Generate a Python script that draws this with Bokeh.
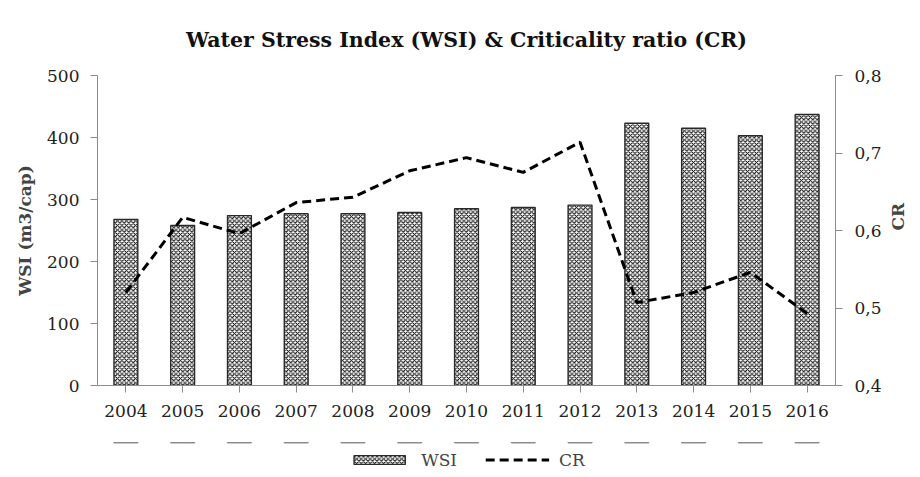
import math
from bokeh.plotting import figure
from bokeh.layouts import column
from bokeh.models import (FactorRange, Range1d, LinearAxis, CustomJSTickFormatter,
                          Legend, LegendItem, ColumnDataSource, FixedTicker)
from bokeh.embed import file_html
from bokeh.resources import INLINE

years = ["2004", "2005", "2006", "2007", "2008", "2009", "2010",
         "2011", "2012", "2013", "2014", "2015", "2016"]
wsi = [268, 258, 274, 277, 277, 279, 285, 287, 291, 423, 415, 403, 437]
cr = [0.52, 0.617, 0.596, 0.636, 0.643, 0.677, 0.694, 0.675, 0.714,
      0.507, 0.52, 0.546, 0.493]

FONT = "DejaVu Serif"
GRAY = "#8c8c8c"
TICK_SIZE = "17px"
BAR_STYLE = dict(fill_color="white", line_color="#2a2a2a", line_width=1.4,
                 hatch_pattern="diagonal_cross", hatch_color="black",
                 hatch_scale=4.5, hatch_weight=1)
LINE_STYLE = dict(line_color="black", line_width=3, line_dash="9 5")

src = ColumnDataSource(dict(year=years, wsi=wsi, cr=cr))

p = figure(width=920, height=430,
           x_range=FactorRange(*years, range_padding=0),
           y_range=Range1d(0, 500), output_backend="svg", toolbar_location=None,
           min_border_left=97, min_border_right=81, min_border_top=75,
           min_border_bottom=45)
p.extra_y_ranges = {"cr": Range1d(0.4, 0.8)}
p.outline_line_color = None
p.xgrid.grid_line_color = None
p.ygrid.grid_line_color = None

p.vbar(x="year", top="wsi", width=0.42, source=src, **BAR_STYLE)
p.line(x="year", y="cr", source=src, y_range_name="cr", **LINE_STYLE)

p.title.text = "Water Stress Index (WSI) & Criticality ratio (CR)"
p.title.align = "center"
p.title.text_font = FONT
p.title.text_font_size = "20.5px"
p.title.text_font_style = "bold"
p.title.text_color = "#111111"
p.title.standoff = 47

for ax in [p.xaxis[0], p.yaxis[0]]:
    ax.axis_line_color = GRAY
    ax.major_tick_line_color = GRAY
    ax.minor_tick_line_color = None
    ax.major_label_text_font = FONT
    ax.major_label_text_font_size = TICK_SIZE
    ax.major_label_text_color = "#222222"
    ax.major_tick_out = 7
    ax.major_tick_in = 0

p.yaxis[0].ticker = FixedTicker(ticks=[0, 100, 200, 300, 400, 500])
p.yaxis[0].major_label_standoff = 11
p.yaxis[0].axis_label = "WSI (m3/cap)"
p.yaxis[0].axis_label_text_font = FONT
p.yaxis[0].axis_label_text_font_size = "17px"
p.yaxis[0].axis_label_text_font_style = "bold"
p.yaxis[0].axis_label_standoff = 9
p.xaxis[0].major_label_standoff = 12

rax = LinearAxis(y_range_name="cr", ticker=FixedTicker(ticks=[0.4, 0.5, 0.6, 0.7, 0.8]),
                 formatter=CustomJSTickFormatter(code="return tick.toFixed(1).replace('.', ',');"))
rax.axis_line_color = GRAY
rax.major_tick_line_color = GRAY
rax.minor_tick_line_color = None
rax.major_tick_out = 7
rax.major_tick_in = 0
rax.major_label_standoff = 12
rax.major_label_text_font = FONT
rax.major_label_text_font_size = TICK_SIZE
rax.major_label_text_color = "#222222"
rax.axis_label = "CR"
rax.axis_label_orientation = math.pi / 2
rax.axis_label_text_font = FONT
rax.axis_label_text_font_size = "17px"
rax.axis_label_text_font_style = "bold"
rax.axis_label_standoff = 13
p.add_layout(rax, "right")

# legend strip below the chart: same series drawn out of view so only the
# legend swatches and labels are visible
lg = figure(width=920, height=47, x_range=FactorRange(*years, range_padding=0),
            y_range=Range1d(-2, -1), output_backend="svg", toolbar_location=None,
            min_border_left=18, min_border_right=0, min_border_top=12,
            min_border_bottom=0)
lg.axis.visible = False
lg.grid.grid_line_color = None
lg.outline_line_color = None
r_bar = lg.vbar(x="year", top="wsi", width=0.42, source=src, **BAR_STYLE)
r_line = lg.line(x="year", y="cr", source=src, **LINE_STYLE)
legend = Legend(items=[LegendItem(label="WSI", renderers=[r_bar]),
                       LegendItem(label="CR", renderers=[r_line])],
                orientation="horizontal", location="center", margin=0,
                glyph_width=64, glyph_height=11, spacing=28, label_standoff=10,
                label_text_font=FONT, label_text_font_size=TICK_SIZE,
                border_line_color=None, background_fill_alpha=0)
lg.add_layout(legend, "center")

layout = column(p, lg, spacing=0)
open("out.html", "w").write(file_html(layout, INLINE))
